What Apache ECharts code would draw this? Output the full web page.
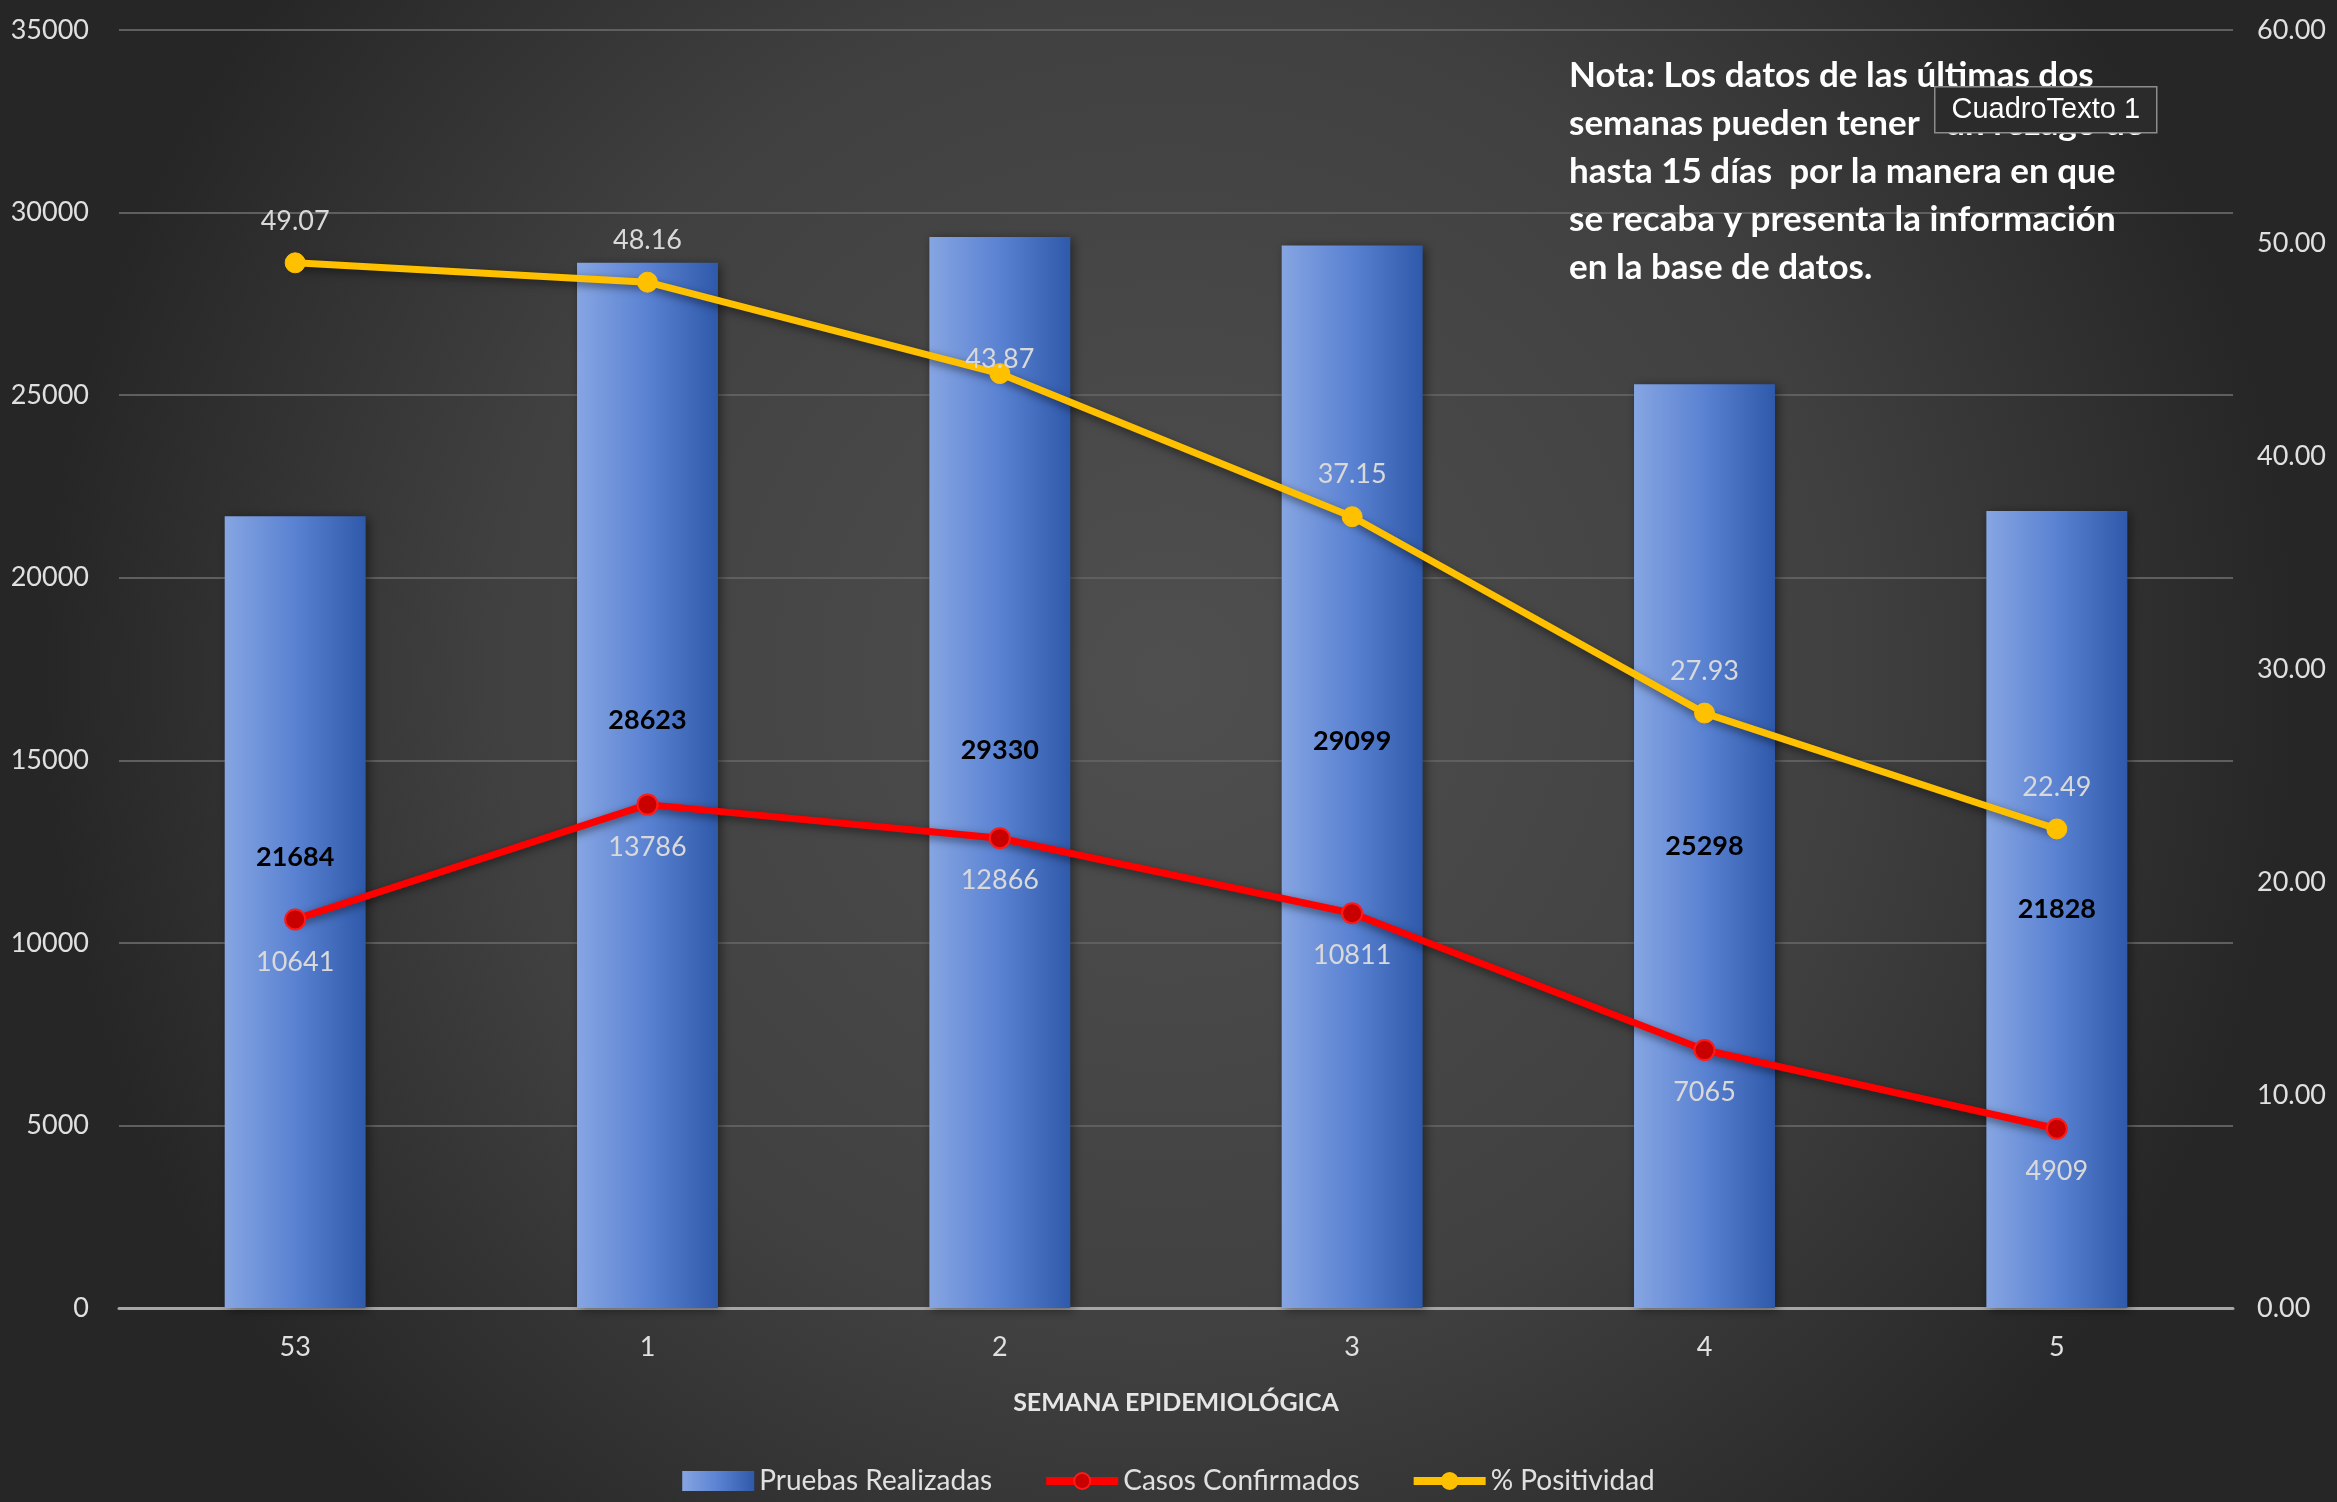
<!DOCTYPE html>
<html>
<head>
<meta charset="utf-8">
<script src="https://cdn.jsdelivr.net/npm/echarts@6/dist/echarts.min.js"></script>
<style>html,body{margin:0;padding:0;background:#333;}#c{width:2337px;height:1502px;}</style>
</head>
<body>
<div id="c"></div>
<script>
const weeks = ['53', '1', '2', '3', '4', '5'];
const pruebas = [21684, 28623, 29330, 29099, 25298, 21828];
const casos = [10641, 13786, 12866, 10811, 7065, 4909];
const positividad = [49.07, 48.16, 43.87, 37.15, 27.93, 22.49];
const leftTicks = {min: 0, max: 35000, interval: 5000};
const rightTicks = {min: 0, max: 60, interval: 10};
// label style offsets (pixels), kept apart from values
const barLabelShift = [-55, -65, -22, -35, 0, 0];
const posLabelShift = [0, 0, 28, 0, 0, 0];

const FONT = 'Lato, "Open Sans", sans-serif';
const chart = echarts.init(document.getElementById('c'));

const barData = pruebas.map((v, i) => ({
  value: v,
  label: {offset: [0, barLabelShift[i]]}
}));
const posData = positividad.map((v, i) => ({
  value: v,
  label: {offset: [0, posLabelShift[i]]}
}));

chart.setOption({
  backgroundColor: {
    type: 'radial', x: 0.5, y: 0.45, r: 0.75,
    colorStops: [
      {offset: 0, color: '#4f4f4f'},
      {offset: 0.6, color: '#404040'},
      {offset: 1, color: '#262626'}
    ]
  },
  textStyle: {fontFamily: FONT},
  grid: {left: 119, right: 104, top: 30, bottom: 194, containLabel: false},
  legend: {
    bottom: 2,
    left: 'center',
    itemGap: 50,
    itemWidth: 72,
    itemHeight: 20,
    textStyle: {color: '#e0e0e0', fontSize: 28, fontFamily: FONT},
    data: [
      {name: 'Pruebas Realizadas', icon: 'rect'},
      {name: 'Casos Confirmados', lineStyle: {width: 8}},
      {name: '% Positividad', lineStyle: {width: 8}}
    ]
  },
  xAxis: {
    type: 'category',
    data: weeks,
    name: 'SEMANA EPIDEMIOLÓGICA',
    nameLocation: 'middle',
    nameGap: 82,
    nameTextStyle: {color: '#e6e6e6', fontSize: 25, fontWeight: 'bold', fontFamily: FONT},
    axisLine: {lineStyle: {color: '#a6a6a6', width: 3}},
    axisTick: {show: false},
    axisLabel: {color: '#e0e0e0', fontSize: 27, margin: 26}
  },
  yAxis: [
    {
      type: 'value',
      min: leftTicks.min, max: leftTicks.max, interval: leftTicks.interval,
      axisLine: {show: false},
      axisTick: {show: false},
      axisLabel: {color: '#e0e0e0', fontSize: 27, margin: 30, formatter: v => String(v)},
      splitLine: {lineStyle: {color: '#5f5f5f', width: 2}}
    },
    {
      type: 'value',
      min: rightTicks.min, max: rightTicks.max, interval: rightTicks.interval,
      axisLine: {show: false},
      axisTick: {show: false},
      splitLine: {show: false},
      axisLabel: {color: '#e0e0e0', fontSize: 27, margin: 24,
        formatter: v => v.toFixed(2)}
    }
  ],
  series: [
    {
      name: 'Pruebas Realizadas',
      type: 'bar',
      barWidth: '40%',
      data: barData,
      itemStyle: {
        color: {
          type: 'linear', x: 0, y: 0, x2: 1, y2: 0,
          colorStops: [
            {offset: 0, color: '#86a5e2'},
            {offset: 0.5, color: '#5a82d2'},
            {offset: 1, color: '#2f59aa'}
          ]
        },
        shadowColor: 'rgba(0,0,0,0.45)',
        shadowBlur: 10,
        shadowOffsetX: 3,
        shadowOffsetY: 2
      },
      label: {
        show: true,
        position: 'inside',
        color: '#000000',
        fontWeight: 'bold',
        fontSize: 27,
        fontFamily: FONT
      },
      z: 2
    },
    {
      name: 'Casos Confirmados',
      type: 'line',
      data: casos,
      yAxisIndex: 0,
      symbol: 'circle',
      symbolSize: 20,
      lineStyle: {color: '#ff0000', width: 7, shadowColor: 'rgba(0,0,0,0.5)', shadowBlur: 8, shadowOffsetY: 3},
      itemStyle: {color: '#c80000', borderColor: '#ff1a1a', borderWidth: 2},
      label: {
        show: true,
        position: 'bottom',
        distance: 18,
        color: '#d9d9d9',
        fontSize: 27,
        fontFamily: FONT
      },
      z: 5
    },
    {
      name: '% Positividad',
      type: 'line',
      data: posData,
      yAxisIndex: 1,
      symbol: 'circle',
      symbolSize: 20,
      lineStyle: {color: '#ffc000', width: 7, shadowColor: 'rgba(0,0,0,0.5)', shadowBlur: 8, shadowOffsetY: 3},
      itemStyle: {color: '#ffc000', borderColor: '#ffc000', borderWidth: 1},
      label: {
        show: true,
        position: 'top',
        distance: 18,
        color: '#d9d9d9',
        fontSize: 27,
        fontFamily: FONT,
        formatter: p => p.value.toFixed(2)
      },
      z: 6
    }
  ],
  graphic: [
    {
      type: 'text',
      left: 1569,
      top: 52,
      z: 100,
      style: {
        text: 'Nota: Los datos de las últimas dos\nsemanas pueden tener   un rezago de\nhasta 15 días  por la manera en que\nse recaba y presenta la información\nen la base de datos.',
        fill: '#ffffff',
        font: 'bold 35px ' + FONT,
        lineHeight: 48
      }
    },
    {
      type: 'group',
      left: 1934,
      top: 86,
      z: 110,
      children: [
        {
          type: 'rect',
          shape: {x: 0, y: 0, width: 222, height: 46},
          style: {fill: '#2b2b2b', stroke: '#8c8c8c', lineWidth: 1.5},
          z: 110
        },
        {
          type: 'text',
          x: 111, y: 23,
          style: {
            text: 'CuadroTexto 1',
            fill: '#ffffff',
            font: '29px "Liberation Sans", Arial, sans-serif',
            align: 'center',
            verticalAlign: 'middle'
          },
          z: 111
        }
      ]
    }
  ]
});
</script>
</body>
</html>
